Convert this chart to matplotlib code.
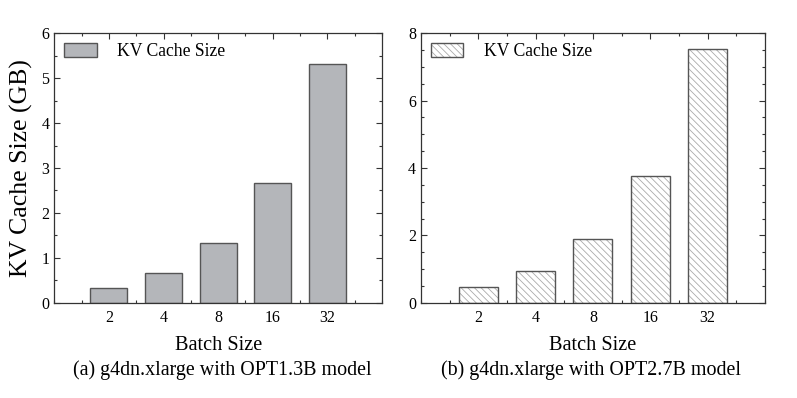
import matplotlib
matplotlib.use("Agg")
import matplotlib.pyplot as plt
from matplotlib.ticker import MultipleLocator
from matplotlib.legend_handler import HandlerTuple

plt.rcParams['font.family'] = ['Liberation Serif', 'DejaVu Serif']
plt.rcParams['hatch.linewidth'] = 0.6

batch_sizes = ["2", "4", "8", "16", "32"]
kv_opt13b = [0.33, 0.67, 1.33, 2.66, 5.31]
kv_opt27b = [0.47, 0.94, 1.88, 3.75, 7.52]
legend_label = "KV Cache Size"
xlabel = "Batch Size"
ylabel = "KV Cache Size (GB)"
captions = ["(a) g4dn.xlarge with OPT1.3B model", "(b) g4dn.xlarge with OPT2.7B model"]

fig = plt.figure(figsize=(7.97, 3.98), dpi=100)
ax1 = fig.add_axes([0.0681, 0.2394, 0.4112, 0.677])
ax2 = fig.add_axes([0.5282, 0.2394, 0.4316, 0.677])

pos = list(range(1, len(batch_sizes) + 1))
edge = "#555555"

b1 = ax1.bar(pos, kv_opt13b, width=0.68, color="#b4b6ba", edgecolor=edge, linewidth=1.0, zorder=2)
h_hatch = ax2.bar(pos, kv_opt27b, width=0.68, color="white", edgecolor="#aaaaaa",
                  hatch="\\" * 5, linewidth=0, zorder=2)
h_out = ax2.bar(pos, kv_opt27b, width=0.68, fill=False, edgecolor=edge, linewidth=1.0, zorder=3)

for ax, ymax, ymaj in [(ax1, 6, 1), (ax2, 8, 2)]:
    ax.set_xlim(0, 6)
    ax.set_ylim(0, ymax)
    ax.set_xticks(pos)
    ax.set_xticklabels(batch_sizes)
    ax.xaxis.set_minor_locator(MultipleLocator(0.5))
    ax.yaxis.set_major_locator(MultipleLocator(ymaj))
    ax.yaxis.set_minor_locator(MultipleLocator(0.5))
    ax.tick_params(which="both", direction="in", top=True, right=True, colors="#333333",
                   labelcolor="black", labelsize=11.5, zorder=5)
    ax.tick_params(which="major", length=4, width=0.8)
    ax.tick_params(which="minor", length=2.2, width=0.8)
    ax.tick_params(axis="x", which="major", pad=5.5)
    ax.tick_params(axis="y", which="major", pad=3.5)
    for s in ax.spines.values():
        s.set_color("#333333")
        s.set_linewidth(0.9)
        s.set_zorder(6)
    ax.set_xlabel(xlabel, fontsize=14.6, labelpad=7)

ax1.set_ylabel(ylabel, fontsize=18.5, labelpad=6)

leg_kw = dict(loc="upper left", frameon=False, fontsize=12.7,
              handlelength=1.85, handleheight=0.8, handletextpad=1.15,
              borderaxespad=0.15, bbox_to_anchor=(0.0, 1.0))
ax1.legend([b1], [legend_label], **leg_kw)
ax2.legend([(h_hatch, h_out)], [legend_label],
           handler_map={tuple: HandlerTuple(ndivide=1)}, **leg_kw)

fig.text(0.279, 0.069, captions[0], ha="center", va="center", fontsize=14.4)
fig.text(0.7415, 0.069, captions[1], ha="center", va="center", fontsize=14.4)

fig.savefig("out.png", dpi=100)
